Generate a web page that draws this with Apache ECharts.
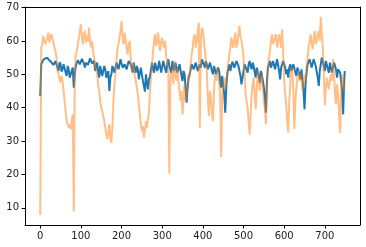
<!DOCTYPE html>
<html>
<head>
<meta charset="utf-8">
<script src="https://cdn.jsdelivr.net/npm/echarts@6/dist/echarts.min.js"></script>
<style>
  html, body { margin: 0; padding: 0; background: #fff; }
  #chart { width: 366px; height: 247px; }
</style>
</head>
<body>
<div id="chart"></div>
<script>
// values, one every 2.5 samples (last one is sample 749)
const blue = [
  43.5, 53, 53.5, 54.3, 54, 54.8, 54.5, 54.9, 54.8, 54.2, 54.5, 53.6, 53.8, 52.8, 52.5, 54, 53.5, 52, 51, 53.6,
  53, 50.8, 51.5, 53, 52.5, 50.5, 49.5, 52.5, 51.5, 49, 48.5, 51, 52, 46, 50, 52.5, 53, 54.2, 54, 53,
  53.5, 54.6, 54.2, 53.2, 52, 53.5, 54, 52.8, 53, 54.8, 54.5, 53.3, 53, 54, 51, 52.5, 53.5, 50.5, 49, 52.5,
  52, 49.5, 50, 52.5, 51.5, 49, 48.5, 51, 45, 49, 50, 52.5, 52.5, 50.5, 51, 53.5, 53.5, 51.5, 52, 54.5,
  54, 52, 51.5, 53, 53.5, 51.5, 52, 54, 54.5, 53, 52, 50.5, 53.5, 51.5, 50.5, 52.5, 51.5, 48.5, 49, 52,
  51.5, 48, 46.5, 44.8, 50, 47.5, 45.5, 48.5, 49.5, 51.5, 53.5, 51.5, 50.5, 53.5, 54, 51, 52, 54, 53.5, 50.5,
  51, 54, 53.5, 51.5, 50.5, 53, 54.5, 52.5, 52, 50.5, 54, 52, 51, 53.5, 53, 50.5, 51, 53, 52.5, 49.5,
  48, 51, 50, 46, 41.5, 46, 49, 50, 51.5, 53, 53.5, 51.5, 51, 53.5, 53, 51, 50.5, 53, 52, 54.5,
  55, 53, 52, 54, 53.5, 51.5, 51, 53.5, 53, 51, 50, 52.5, 52.5, 50, 49.5, 52, 51, 48, 46, 49.5,
  49, 44, 38.5, 46, 50, 52, 53, 51, 51.5, 53.8, 54, 52, 52.5, 54, 54.5, 52.5, 52, 49.5, 47, 49,
  51, 53, 53.5, 51.5, 50.5, 53, 54, 52.5, 51.5, 53.5, 52.5, 50.5, 49, 52, 51.5, 49.5, 47.5, 51, 50, 48,
  46, 43, 38.5, 48, 52, 53, 54, 52, 51.5, 54, 53.5, 51.5, 52, 54.5, 54, 51, 48.5, 52, 53, 54,
  54.5, 52, 50, 51.5, 49, 52, 53, 51, 50.5, 53, 52.5, 50.5, 49.5, 52, 52.5, 50, 48.5, 51.5, 51, 45,
  39.5, 47, 50.5, 53, 52.5, 54.5, 54, 52, 52.5, 54.5, 54.5, 52.5, 52, 49, 46.5, 51, 53, 55, 54.5, 52.5,
  51, 54, 53.5, 51.5, 50.5, 53.5, 53, 50.5, 51, 53.5, 53, 51.5, 49, 51.5, 52, 50.5, 48, 45, 38, 48,
  51
];
const orange = [
  7.8, 58, 59, 61.5, 61, 59, 58.5, 61, 62.5, 59.5, 60, 62, 61.5, 59.5, 58, 57, 55, 51, 50, 48.5,
  47.5, 49.5, 48, 45, 42, 39, 36, 36.5, 34, 35, 33.5, 36, 38, 8.9, 50, 56, 57, 59, 61, 63,
  65, 61, 59, 62, 63, 59.5, 61.5, 60, 64, 59.5, 58, 60, 57, 55, 52.5, 53, 50, 47, 45, 42,
  40, 39, 38.5, 36, 34, 32, 30.5, 33, 35, 31, 29.5, 34, 42, 47, 50, 54, 58, 59, 61, 63,
  66, 61, 59, 62.5, 62, 58, 56, 59, 60, 55, 51, 53.5, 52, 49.5, 48, 46, 44, 41, 38, 35,
  33, 34.5, 31, 33, 36, 34, 33.5, 39, 45, 49, 53, 57, 60, 62, 58.5, 60, 62.5, 59, 57, 60,
  61, 59, 58, 60, 55, 53, 52, 20.2, 48, 51, 50, 47, 54, 50, 48, 52, 51.5, 45, 42, 45,
  38, 42, 47, 42, 44, 47, 50, 49, 53, 56, 58, 61, 62, 58, 60, 63, 65.5, 34, 60, 64,
  63, 60, 57, 54, 50, 42, 37.5, 45, 43, 38, 36, 45, 50, 48, 52, 49, 47, 44, 25.2, 44,
  47, 49, 46, 48, 50, 53, 56, 58, 61, 59, 58, 61, 62.5, 58, 59, 62, 64.5, 61, 60, 58,
  55, 50, 44, 42, 40, 36, 32, 38, 44, 47, 49, 44, 39.5, 46, 51, 48, 45, 48, 50, 46,
  42, 40, 35, 45, 52, 55, 57, 60, 62, 59, 58.5, 61, 62, 58, 59.5, 62, 61, 58, 63.5, 56,
  48, 44, 41, 36, 32.5, 42, 47, 52, 50.5, 45, 33.6, 42, 46, 49, 51, 48, 47.5, 50, 45, 47,
  50, 48, 52, 55, 58, 60, 62, 59, 57.5, 61, 63, 59, 60, 62, 63, 60, 67.2, 62, 58, 50,
  40.7, 46, 49, 47, 45.5, 48, 50, 48, 54.6, 50, 44, 41, 47, 44, 38, 32.5, 45, 50, 48, 45,
  47
];
const xTicks = [0, 100, 200, 300, 400, 500, 600, 700];
const yTicks = [10, 20, 30, 40, 50, 60, 70];

// sample index of each value
const xs = blue.map((_, i) => Math.min(i * 2.5, 749));

const chart = echarts.init(document.getElementById('chart'), null, { renderer: 'canvas' });
const font = { fontFamily: 'DejaVu Sans', fontSize: 10, color: '#222' };
const xRange = { min: -37.45, max: 786.45 };
const yRange = { min: 4.83, max: 70.17 };
const frameLine = { show: true, onZero: false, lineStyle: { color: '#000', width: 1 } };
chart.setOption({
  animation: false,
  grid: { left: 25, right: 6, top: 7, bottom: 22 },
  xAxis: [
    {
      type: 'value', ...xRange,
      splitLine: { show: false },
      axisLine: frameLine,
      axisTick: { show: true, length: 3.5, customValues: xTicks, lineStyle: { color: '#000' } },
      axisLabel: { ...font, margin: 6, customValues: xTicks }
    },
    // top spine
    { type: 'value', position: 'top', ...xRange, axisLine: frameLine,
      axisTick: { show: false }, axisLabel: { show: false }, splitLine: { show: false } }
  ],
  yAxis: [
    {
      type: 'value', ...yRange,
      splitLine: { show: false },
      axisLine: frameLine,
      axisTick: { show: true, length: 3.5, customValues: yTicks, lineStyle: { color: '#000' } },
      axisLabel: { ...font, margin: 6, customValues: yTicks }
    },
    // right spine
    { type: 'value', position: 'right', ...yRange, axisLine: frameLine,
      axisTick: { show: false }, axisLabel: { show: false }, splitLine: { show: false } }
  ],
  series: [
    {
      type: 'line', showSymbol: false,
      data: xs.map((x, i) => [x, blue[i]]),
      lineStyle: { color: '#1f77b4', width: 2 }
    },
    {
      type: 'line', showSymbol: false,
      data: xs.map((x, i) => [x, orange[i]]),
      lineStyle: { color: '#ff7f0e', width: 2, opacity: 0.5 }
    }
  ]
});
</script>
</body>
</html>
